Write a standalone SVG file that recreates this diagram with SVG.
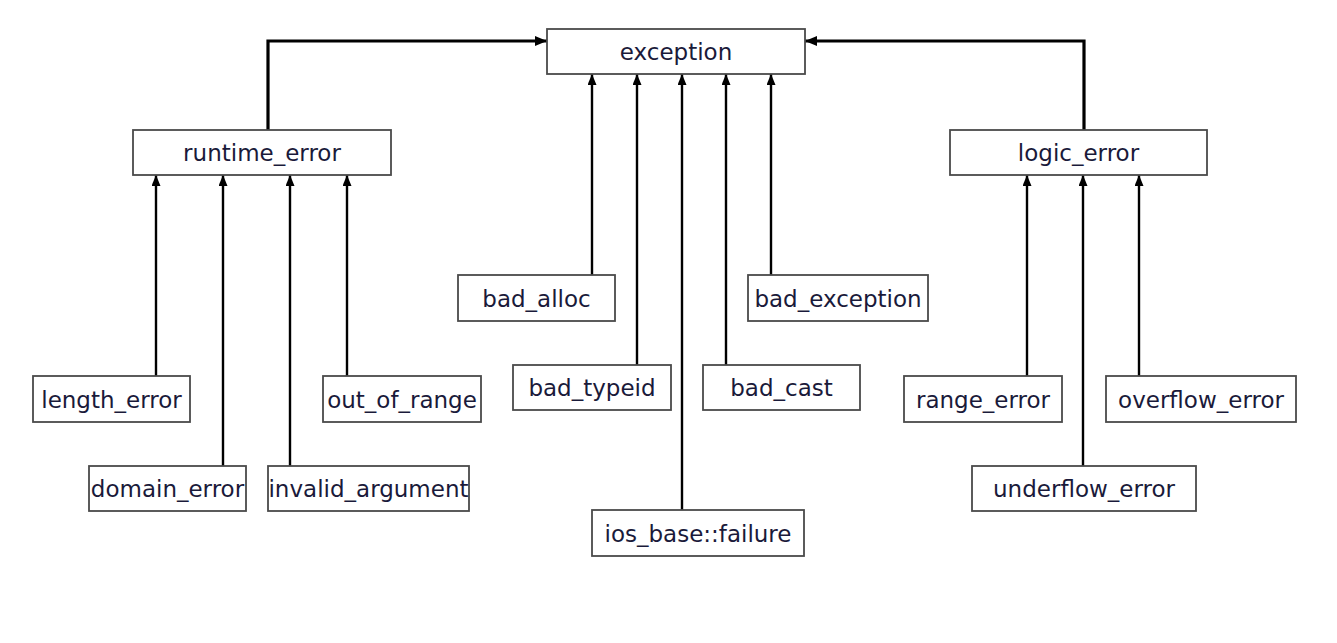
<svg xmlns="http://www.w3.org/2000/svg" width="1337" height="643" viewBox="0 0 1337 643">
<defs>
<marker id="ah" viewBox="0 0 11 9" refX="11" refY="4.5" markerWidth="11" markerHeight="9" markerUnits="userSpaceOnUse" orient="auto">
<path d="M0,0 L11,4.5 L0,9 z" fill="#000"/>
</marker>
<marker id="ah2" viewBox="0 0 12 10" refX="12" refY="5" markerWidth="12" markerHeight="10" markerUnits="userSpaceOnUse" orient="auto">
<path d="M0,0 L12,5 L0,10 z" fill="#000"/>
</marker>
</defs>
<style>
.box{fill:#fff;stroke:#4a4a4a;stroke-width:1.8}
.lbl{font-family:"DejaVu Sans",Verdana,sans-serif;font-size:23px;fill:#1a1a3a;text-anchor:middle}
.c{fill:none;stroke:#000;stroke-width:2.4;marker-end:url(#ah)}
.ct{fill:none;stroke:#000;stroke-width:3.2;marker-end:url(#ah2)}
</style>
<rect width="1337" height="643" fill="#fff"/>
<g id="connectors">
<path class="ct" d="M268,130 V41 H547"/>
<path class="ct" d="M1084,130 V41 H805"/>
<path class="c" d="M592,275 V74"/>
<path class="c" d="M637,365 V74"/>
<path class="c" d="M682,510 V74"/>
<path class="c" d="M726,365 V74"/>
<path class="c" d="M771,275 V74"/>
<path class="c" d="M156,376 V175"/>
<path class="c" d="M223,466 V175"/>
<path class="c" d="M290,466 V175"/>
<path class="c" d="M347,376 V175"/>
<path class="c" d="M1027,376 V175"/>
<path class="c" d="M1083,466 V175"/>
<path class="c" d="M1139,376 V175"/>
</g>
<g id="exception"><rect class="box" x="547" y="29" width="258" height="45"/><text class="lbl" x="676" y="60">exception</text></g>
<g id="runtime_error"><rect class="box" x="133" y="130" width="258" height="45"/><text class="lbl" x="262" y="161">runtime_error</text></g>
<g id="logic_error"><rect class="box" x="950" y="130" width="257" height="45"/><text class="lbl" x="1078.5" y="161">logic_error</text></g>
<g id="bad_alloc"><rect class="box" x="458" y="275" width="157" height="46"/><text class="lbl" x="536.5" y="306.5">bad_alloc</text></g>
<g id="bad_exception"><rect class="box" x="748" y="275" width="180" height="46"/><text class="lbl" x="838" y="306.5">bad_exception</text></g>
<g id="bad_typeid"><rect class="box" x="513" y="365" width="158" height="45"/><text class="lbl" x="592" y="396">bad_typeid</text></g>
<g id="bad_cast"><rect class="box" x="703" y="365" width="157" height="45"/><text class="lbl" x="781.5" y="396">bad_cast</text></g>
<g id="ios_base_failure"><rect class="box" x="592" y="510" width="212" height="46"/><text class="lbl" x="698" y="541.5">ios_base::failure</text></g>
<g id="length_error"><rect class="box" x="33" y="376" width="157" height="46"/><text class="lbl" x="111.5" y="407.5">length_error</text></g>
<g id="out_of_range"><rect class="box" x="323" y="376" width="158" height="46"/><text class="lbl" x="402" y="407.5">out_of_range</text></g>
<g id="domain_error"><rect class="box" x="89" y="466" width="157" height="45"/><text class="lbl" x="167.5" y="497">domain_error</text></g>
<g id="invalid_argument"><rect class="box" x="268" y="466" width="201" height="45"/><text class="lbl" x="368.5" y="497">invalid_argument</text></g>
<g id="range_error"><rect class="box" x="904" y="376" width="158" height="46"/><text class="lbl" x="983" y="407.5">range_error</text></g>
<g id="overflow_error"><rect class="box" x="1106" y="376" width="190" height="46"/><text class="lbl" x="1201" y="407.5">overflow_error</text></g>
<g id="underflow_error"><rect class="box" x="972" y="466" width="224" height="45"/><text class="lbl" x="1084" y="497">underflow_error</text></g>
</svg>
